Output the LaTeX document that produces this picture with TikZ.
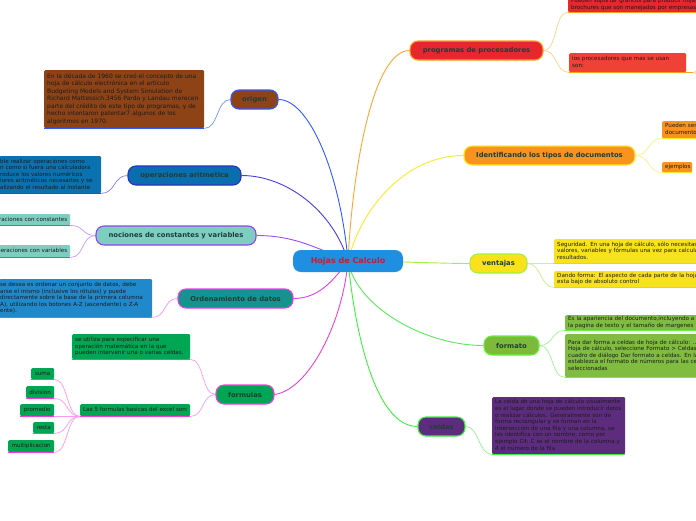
\documentclass[tikz,border=0pt]{standalone}
\usepackage{fontspec}
\setmainfont{DejaVu Sans}
\newcommand\myfs[2]{\fontsize{#1}{#2}\selectfont}
\newcommand\txtl[1]{\begin{tabular}{@{}l@{}}#1\end{tabular}}
\pgfdeclarelayer{bg}
\pgfsetlayers{bg,main}
\definecolor{cRoot}{HTML}{1E8FE1}
\definecolor{cRootTxt}{HTML}{D4182B}
\definecolor{cMainTxt}{HTML}{1D3F3A}
\definecolor{cSubTxt}{HTML}{1C1C1C}
\definecolor{cOrig}{HTML}{8E4317}
\definecolor{cOrigB}{HTML}{2F5BF5}
\definecolor{cOrigL}{HTML}{2E5BFF}
\definecolor{cOrigS}{HTML}{6C95FF}
\definecolor{cOper}{HTML}{0A6EAE}
\definecolor{cOperB}{HTML}{2631C9}
\definecolor{cOperBox}{HTML}{0B72B1}
\definecolor{cOperL}{HTML}{4A3AE8}
\definecolor{cOperS}{HTML}{8A7BF0}
\definecolor{cNoc}{HTML}{7ECDC1}
\definecolor{cNocB}{HTML}{9B3FF2}
\definecolor{cNocL}{HTML}{A24AF5}
\definecolor{cNocS}{HTML}{C79AF7}
\definecolor{cOrd}{HTML}{16928F}
\definecolor{cOrdB}{HTML}{E63FE8}
\definecolor{cOrdBox}{HTML}{2089CC}
\definecolor{cOrdL}{HTML}{E040F0}
\definecolor{cOrdS}{HTML}{FF90F5}
\definecolor{cForm}{HTML}{00A651}
\definecolor{cFormB}{HTML}{F23FD9}
\definecolor{cFormS}{HTML}{FF9AF0}
\definecolor{cProg}{HTML}{E8262E}
\definecolor{cProg2}{HTML}{EF4136}
\definecolor{cProgB}{HTML}{FF9F1C}
\definecolor{cProgL}{HTML}{FFA530}
\definecolor{cProgS}{HTML}{FFD08A}
\definecolor{cIden}{HTML}{F7931E}
\definecolor{cIdenB}{HTML}{FFE82A}
\definecolor{cIdenS}{HTML}{FFF080}
\definecolor{cVent}{HTML}{F9E21B}
\definecolor{cVentB}{HTML}{A6F03A}
\definecolor{cVentS}{HTML}{C8F580}
\definecolor{cFmt}{HTML}{7DBA3C}
\definecolor{cFmtBox}{HTML}{80BC40}
\definecolor{cFmtB}{HTML}{6AF03A}
\definecolor{cFmtL}{HTML}{5BE85B}
\definecolor{cFmtS}{HTML}{A0F590}
\definecolor{cCel}{HTML}{5E2C7E}
\definecolor{cCelB}{HTML}{3CF03C}
\definecolor{cCelS}{HTML}{90F590}
\begin{document}
\begin{tikzpicture}[x=1pt,y=-1pt,
  mainn/.style={rounded corners=8pt, line width=1.1pt, inner sep=0pt, minimum height=19pt, text=cMainTxt, font=\bfseries\myfs{6.8}{8}},
  bx/.style={anchor=north west, inner xsep=3pt, inner ysep=0pt, rounded corners=1.2pt, text=cSubTxt, align=left, font=\myfs{5.6}{6.5}},
  fb/.style={anchor=north west, inner sep=0pt, rounded corners=1.2pt, fill=cForm, text=cSubTxt, font=\myfs{5.6}{6}},
  ul/.style={line width=1.4pt},
  lk/.style={line width=0.9pt},
  sl/.style={line width=0.7pt}]
\useasboundingbox (0,0) rectangle (696,520);
\clip (0,0) rectangle (696,520);

% main nodes
\node[mainn, fill=cRoot, minimum width=110pt, minimum height=22pt, text=cRootTxt, font=\bfseries\myfs{8}{9}] (root) at (348,261) {Hojas de Calculo};
\node[mainn, fill=cOrig, draw=cOrigB, minimum width=47pt] (origen) at (254.5,99.5) {origen};
\node[mainn, fill=cOper, draw=cOperB, minimum width=113pt] (oper) at (184.5,175.5) {operaciones aritmetica};
\node[mainn, fill=cNoc, draw=cNocB, minimum width=160pt] (noc) at (176,235.5) {nociones de constantes y variables};
\node[mainn, fill=cOrd, draw=cOrdB, minimum width=115pt] (ord) at (235.5,298.5) {Ordenamiento de datos};
\node[mainn, fill=cForm, draw=cFormB, minimum width=58pt] (form) at (245,394.5) {formulas};
\node[mainn, fill=cProg, draw=cProgB, minimum width=133pt] (prog) at (476.5,50.5) {programas de procesadores};
\node[mainn, fill=cIden, draw=cIdenB, minimum width=171pt] (iden) at (549.5,155.5) {Identificando los tipos de documentos};
\node[mainn, fill=cVent, draw=cVentB, minimum width=57pt] (vent) at (498.5,263.5) {ventajas};
\node[mainn, fill=cFmt, draw=cFmtB, minimum width=55pt] (fmt) at (511.5,345.5) {formato};
\node[mainn, fill=cCel, draw=cCelB, minimum width=47pt] (cel) at (441.5,426.5) {celdas};

% left sub boxes
\node[bx, fill=cOrig, text width=154pt, minimum height=58pt, font=\myfs{6}{7.5}] (ob) at (44,70) {\txtl{En la década de 1960 se creó el concepto de una\\ hoja de cálculo electrónica en el artículo\\ Budgeting Models and System Simulation de\\ Richard Mattessich.3456 Pardo y Landau merecen\\ parte del crédito de este tipo de programas, y de\\ hecho intentaron patentar7 algunos de los\\ algoritmos en 1970.}};
\node[bx, fill=cOperBox, text width=100pt, minimum height=37pt, inner xsep=1pt] (opb) at (-1,156) {\txtl{ble realizar operaciones como\\ n como si fuera una calculadora\\ roduce los valores numéricos\\ lores aritméticos necesarios y se\\ alizando el resultado al instante}};
\node[bx, fill=cNoc, text width=80pt, minimum height=11pt, align=right] (nc1) at (-16,214) {eraciones con constantes};
\node[bx, fill=cNoc, text width=80pt, minimum height=12pt, align=right] (nc2) at (-16,245) {peraciones con variables};
\node[bx, fill=cOrdBox, text width=151pt, minimum height=38pt, inner xsep=1pt] (ordb) at (-1,279) {\txtl{se desea es ordenar un conjunto de datos, debe\\ arse el mismo (inclusive los rótulos) y puede\\ directamente sobre la base de la primera columna\\ A), utilizando los botones A-Z (ascendente) o Z-A\\ ente).}};
\node[bx, fill=cForm, text width=112pt, minimum height=25pt] (f1) at (72,334) {\txtl{se utiliza para especificar una\\ operación matemática en la que\\ pueden intervenir una o varias celdas.}};
\node[bx, fill=cForm, text width=104pt, minimum height=12pt] (f2) at (80,404) {\txtl{Las 5 formulas basicas del excel son:}};
\node[fb, minimum width=23pt, minimum height=11pt] (suma) at (31,368) {suma};
\node[fb, minimum width=28pt, minimum height=12pt] (divi) at (26,386) {division};
\node[fb, minimum width=34pt, minimum height=12pt] (prom) at (20,404) {promedio};
\node[fb, minimum width=21pt, minimum height=11pt] (resta) at (33,422) {resta};
\node[fb, minimum width=46pt, minimum height=12pt] (mult) at (8,440) {multiplicacion};

% right sub boxes
\node[bx, fill=cProg, text width=200pt, minimum height=15.5pt] (p1) at (568,-3.5) {\txtl{Pueden soportar gráficos para producir hojas\\ brochures que son manejados por empresas}};
\node[bx, fill=cProg2, text width=111pt, minimum height=19pt] (p2) at (569,53) {\txtl{los procesadores que mas se usan\\ son:}};
\node[bx, fill=cIden, text width=60pt, minimum height=17pt] (i1) at (662,121) {\txtl{Pueden ser\\ documentos}};
\node[bx, fill=cIden, text width=24pt, minimum height=10pt] (i2) at (662,162) {\txtl{ejemplos}};
\node[bx, fill=cVent, text width=200pt, minimum height=24pt] (v1) at (554,239) {\txtl{Seguridad. En una hoja de cálculo, sólo necesitas\\ valores, variables y fórmulas una vez para calcular\\ resultados.}};
\node[bx, fill=cVent, text width=200pt, minimum height=16pt] (v2) at (554,271) {\txtl{Dando forma: El aspecto de cada parte de la hoja\\ esta bajo de absoluto control}};
\node[bx, fill=cFmtBox, text width=200pt, minimum height=15pt] (fo1) at (565,315) {\txtl{Es la apariencia del documento,incluyendo a la\\ la pagina de texto y el tamaño de margenes}};
\node[bx, fill=cFmtBox, text width=200pt, minimum height=43pt] (fo2) at (565,334) {\txtl{Para dar forma a celdas de hoja de cálculo: ...\\ Hoja de cálculo, seleccione Formato > Celdas.\\ cuadro de diálogo Dar formato a celdas. En la\\ establezca el formato de números para las celdas\\ seleccionadas}};
\node[bx, fill=cCel, text width=127pt, minimum height=57pt, font=\myfs{5.6}{6.6}] (ce) at (492,397) {\txtl{La celda de una hoja de cálculo visualmente\\ es el lugar donde se pueden introducir datos\\ o realizar cálculos. Generalmente son de\\ forma rectangular y se forman en la\\ intersección de una fila y una columna, se\\ les identifica con un nombre, como por\\ ejemplo C4; C es el nombre de la columna y\\ 4 el número de la fila}};

\coordinate (pfan) at ([xshift=7pt]p2.south east);
\coordinate (pf1) at (704,60);
\coordinate (pf2) at (704,86);

% underlines
\draw[ul, draw=cOrigB] (ob.south west) -- (ob.south east);
\draw[ul, draw=cOperL] (opb.south west) -- (opb.south east);
\draw[ul, draw=cNocL] (nc1.south west) -- (nc1.south east);
\draw[ul, draw=cNocL] (nc2.south west) -- (nc2.south east);
\draw[ul, draw=cOrdL] (ordb.south west) -- (ordb.south east);
\draw[ul, draw=cFormB] (f1.south west) -- (f1.south east);
\draw[ul, draw=cFormB] (f2.south west) -- (f2.south east);
\foreach \n in {suma,divi,prom,resta,mult} {\draw[ul, draw=cFormB] (\n.south west) -- (\n.south east);}
\draw[ul, draw=cProgB] (p1.south west) -- (p1.south east);
\draw[ul, draw=cProgB] (p2.south west) -- (pfan);
\draw[ul, draw=cIdenB] (i1.south west) -- (i1.south east);
\draw[ul, draw=cIdenB] (i2.south west) -- (i2.south east);
\draw[ul, draw=cVentB] (v1.south west) -- (v1.south east);
\draw[ul, draw=cVentB] (v2.south west) -- (v2.south east);
\draw[ul, draw=cFmtB] (fo1.south west) -- (fo1.south east);
\draw[ul, draw=cFmtB] (fo2.south west) -- (fo2.south east);
\draw[ul, draw=cCelB] (ce.south west) -- (ce.south east);

\begin{pgfonlayer}{bg}
\fill[white] (0,0) rectangle (696,520);
% main links
\draw[lk, draw=cOrigL] (origen.east) .. controls +(30,0) and +(-8,-90) .. (root.center);
\draw[lk, draw=cOperL] (oper.east) .. controls +(45,0) and +(-15,-50) .. (root.center);
\draw[lk, draw=cNocL] (noc.east) .. controls +(35,0) and +(-35,-15) .. (root.center);
\draw[lk, draw=cOrdL] (ord.east) .. controls +(25,0) and +(-15,20) .. (root.center);
\draw[lk, draw=cFormB] (form.east) .. controls +(35,-5) and +(-5,60) .. (root.center);
\draw[lk, draw=cProgL] (prog.west) .. controls +(-35,0) and +(5,-100) .. (root.center);
\draw[lk, draw=cIdenB] (iden.west) .. controls +(-60,0) and +(12,-50) .. (root.center);
\draw[lk, draw=cVentB] (vent.west) .. controls +(-30,0) and +(40,0) .. (root.center);
\draw[lk, draw=cFmtL] (fmt.west) .. controls +(-60,0) and +(8,45) .. (root.center);
\draw[lk, draw=cCelB] (cel.west) .. controls +(-40,0) and +(8,80) .. (root.center);
% sub links
\draw[sl, draw=cOrigS] (ob.south east) .. controls +(14,0) and +(-14,0) .. (origen.west);
\draw[sl, draw=cOperS] (opb.south east) .. controls +(14,0) and +(-14,0) .. (oper.west);
\draw[sl, draw=cNocS] (nc1.south east) .. controls +(14,0) and +(-14,0) .. (noc.west);
\draw[sl, draw=cNocS] (nc2.south east) .. controls +(14,0) and +(-14,0) .. (noc.west);
\draw[sl, draw=cOrdS] (ordb.south east) .. controls +(14,0) and +(-14,0) .. (ord.west);
\draw[sl, draw=cFormS] (f1.south east) .. controls +(14,0) and +(-14,0) .. (form.west);
\draw[sl, draw=cFormS] (f2.south east) .. controls +(14,0) and +(-14,0) .. (form.west);
\foreach \n in {suma,divi,prom,resta,mult} {\draw[sl, draw=cFormS] (f2.south west) .. controls +(-14,0) and +(14,0) .. (\n.south east);}
\draw[sl, draw=cProgS] (prog.east) .. controls +(14,0) and +(-14,0) .. (p1.south west);
\draw[sl, draw=cProgS] (prog.east) .. controls +(14,0) and +(-14,0) .. (p2.south west);
\draw[sl, draw=cProgS] (pfan) .. controls +(5,0) and +(-4,0) .. (pf1);
\draw[sl, draw=cProgS] (pfan) .. controls +(5,0) and +(-4,0) .. (pf2);
\draw[sl, draw=cIdenS] (iden.east) .. controls +(14,0) and +(-14,0) .. (i1.south west);
\draw[sl, draw=cIdenS] (iden.east) .. controls +(14,0) and +(-14,0) .. (i2.south west);
\draw[sl, draw=cVentS] (vent.east) .. controls +(14,0) and +(-14,0) .. (v1.south west);
\draw[sl, draw=cVentS] (vent.east) .. controls +(14,0) and +(-14,0) .. (v2.south west);
\draw[sl, draw=cFmtS] (fmt.east) .. controls +(14,0) and +(-14,0) .. (fo1.south west);
\draw[sl, draw=cFmtS] (fmt.east) .. controls +(14,0) and +(-14,0) .. (fo2.south west);
\draw[sl, draw=cCelS] (cel.east) .. controls +(14,0) and +(-14,0) .. (ce.south west);
\end{pgfonlayer}
\end{tikzpicture}
\end{document}
